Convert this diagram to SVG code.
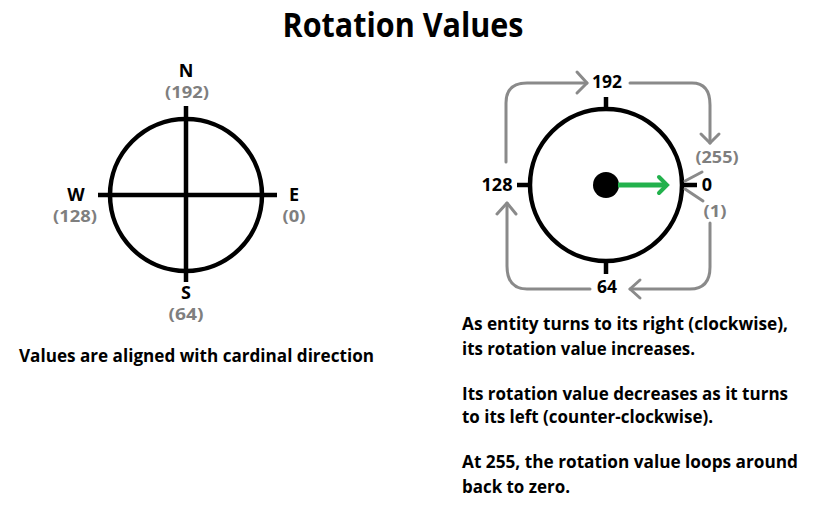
<svg xmlns="http://www.w3.org/2000/svg" width="821" height="514" viewBox="0 0 821 514">
<style>
text{font-family:"Open Sans","Noto Sans","Liberation Sans",sans-serif;font-weight:bold}
.b{fill:#000;font-size:18px}
.g{fill:#7f7f7f;font-size:16px}
.t{font-size:18px;fill:#000}
.ring{fill:none;stroke:#000;stroke-width:4.5}
.blk{stroke:#000;stroke-width:4.5;fill:none}
.gr{stroke:#8a8a8a;stroke-width:3;fill:none;stroke-linecap:round;stroke-linejoin:round}
</style>
<rect width="821" height="514" fill="#fff"/>
<text x="403" y="37" text-anchor="middle" font-size="34" textLength="241" lengthAdjust="spacingAndGlyphs">Rotation Values</text>
<g id="compass">
<circle class="ring" cx="186" cy="195" r="76"/>
<line class="blk" x1="186" y1="106" x2="186" y2="282"/>
<line class="blk" x1="98" y1="195" x2="277" y2="195"/>
</g>
<g id="compass-labels">
<text class="b" x="186" y="77" text-anchor="middle">N</text>
<text class="g" x="187" y="98" text-anchor="middle" textLength="44" lengthAdjust="spacingAndGlyphs">(192)</text>
<text class="b" x="76" y="201" text-anchor="middle">W</text>
<text class="g" x="75" y="222" text-anchor="middle" textLength="44" lengthAdjust="spacingAndGlyphs">(128)</text>
<text class="b" x="294" y="201" text-anchor="middle">E</text>
<text class="g" x="294" y="222" text-anchor="middle" textLength="23" lengthAdjust="spacingAndGlyphs">(0)</text>
<text class="b" x="186" y="299" text-anchor="middle">S</text>
<text class="g" x="186" y="320" text-anchor="middle" textLength="35" lengthAdjust="spacingAndGlyphs">(64)</text>
</g>
<text class="t" x="19" y="362" textLength="355" lengthAdjust="spacingAndGlyphs">Values are aligned with cardinal direction</text>
<g id="dial">
<circle class="ring" cx="606" cy="185" r="76"/>
<line class="blk" x1="606" y1="97" x2="606" y2="110"/>
<line class="blk" x1="606" y1="260" x2="606" y2="274"/>
<line class="blk" x1="517" y1="185" x2="532" y2="185"/>
<line class="blk" x1="680" y1="185" x2="697" y2="185"/>
<circle cx="606" cy="185" r="13" fill="#000"/>
<line x1="618" y1="185" x2="665" y2="185" stroke="#22b14c" stroke-width="5"/>
<polyline points="659,177 667,185 659,193" fill="none" stroke="#22b14c" stroke-width="4" stroke-linecap="round"/>
</g>
<g id="dial-labels">
<text class="b" x="607" y="88" text-anchor="middle" textLength="30" lengthAdjust="spacingAndGlyphs">192</text>
<text class="b" x="497" y="191" text-anchor="middle" textLength="31" lengthAdjust="spacingAndGlyphs">128</text>
<text class="b" x="707" y="191" text-anchor="middle">0</text>
<text class="b" x="607" y="293" text-anchor="middle" textLength="20" lengthAdjust="spacingAndGlyphs">64</text>
<text class="g" x="717" y="163" text-anchor="middle" textLength="43" lengthAdjust="spacingAndGlyphs">(255)</text>
<text class="g" x="715" y="217" text-anchor="middle" textLength="23" lengthAdjust="spacingAndGlyphs">(1)</text>
</g>
<g id="connectors">
<path class="gr" d="M506,162 V103 Q506,83 527,83 H587"/>
<polyline class="gr" points="577,72 587,83 577,93"/>
<path class="gr" d="M630,83 H692 Q710,83 710,105 V143"/>
<polyline class="gr" points="701,134 710,143 719,134"/>
<path class="gr" d="M710,223 V267 Q710,289 690,289 H630"/>
<polyline class="gr" points="640,280 630,289 640,298"/>
<path class="gr" d="M590,289 H527 Q507,289 507,266 V203"/>
<polyline class="gr" points="497,214 507,203 516,214"/>
<line class="gr" x1="702" y1="172" x2="685" y2="181"/>
<line class="gr" x1="685" y1="189" x2="703" y2="201"/>
</g>
<g id="notes">
<text class="t" x="462" y="330" textLength="326" lengthAdjust="spacingAndGlyphs">As entity turns to its right (clockwise),</text>
<text class="t" x="462" y="355" textLength="233" lengthAdjust="spacingAndGlyphs">its rotation value increases.</text>
<text class="t" x="462" y="400" textLength="326" lengthAdjust="spacingAndGlyphs">Its rotation value decreases as it turns</text>
<text class="t" x="462" y="423" textLength="251" lengthAdjust="spacingAndGlyphs">to its left (counter-clockwise).</text>
<text class="t" x="462" y="468" textLength="336" lengthAdjust="spacingAndGlyphs">At 255, the rotation value loops around</text>
<text class="t" x="462" y="493" textLength="108" lengthAdjust="spacingAndGlyphs">back to zero.</text>
</g>
</svg>
